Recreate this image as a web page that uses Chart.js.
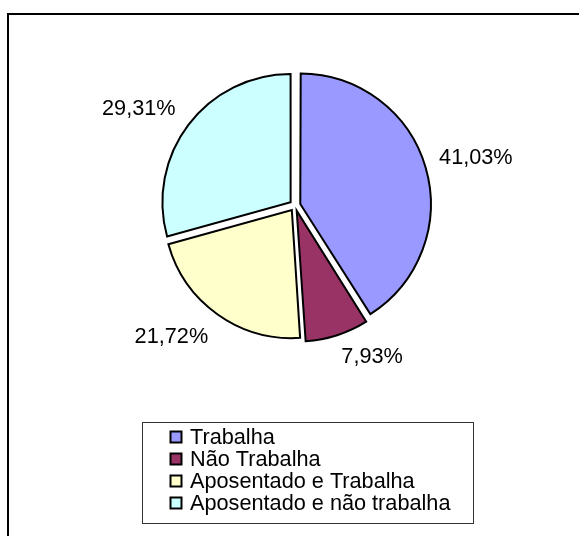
<!DOCTYPE html>
<html>
<head>
<meta charset="utf-8">
<script src="https://cdn.jsdelivr.net/npm/chart.js@4.4.1/dist/chart.umd.min.js"></script>
<style>
html, body { margin: 0; padding: 0; background: #fff; }
canvas { display: block; }
</style>
</head>
<body>
<canvas id="c" width="579" height="536"></canvas>
<script>
const categories = ["Trabalha", "Não Trabalha", "Aposentado e Trabalha", "Aposentado e não trabalha"];
const percentages = [41.03, 7.93, 21.72, 29.31];
const sliceColors = ["#9999FF", "#993366", "#FFFFCC", "#CCFFFF"];

const FONT = '"Liberation Sans", Arial, sans-serif';

const decorPlugin = {
  id: 'decor',
  afterDraw(chart) {
    const ctx = chart.ctx;
    const meta = chart.getDatasetMeta(0);
    const ds = chart.data.datasets[0];
    ctx.save();
    // outer frame
    ctx.strokeStyle = '#000';
    ctx.lineWidth = 2;
    ctx.strokeRect(8, 14, 800, 800);

    // data labels
    ctx.font = '21.7px ' + FONT;
    ctx.fillStyle = '#000';
    ctx.textBaseline = 'alphabetic';
    const capH = 15;
    meta.data.forEach((arc, i) => {
      const mid = (arc.startAngle + arc.endAngle) / 2;
      const dx = Math.cos(mid), dy = Math.sin(mid);
      const dist = arc.outerRadius + 22;
      const px = arc.x + dx * dist;
      const py = arc.y + dy * dist;
      ctx.textAlign = dx >= 0 ? 'left' : 'right';
      const by = dy < 0 ? py : py + capH;
      const txt = ds.data[i].toFixed(2).replace('.', ',') + '%';
      ctx.fillText(txt, px, by);
    });

    // legend box
    ctx.strokeStyle = '#333';
    ctx.lineWidth = 1;
    ctx.strokeRect(142.5, 422.5, 331, 101);
    ctx.textAlign = 'left';
    chart.data.labels.forEach((lab, i) => {
      const b = 444 + i * 22;
      ctx.fillStyle = ds.backgroundColor[i];
      ctx.fillRect(170.5, b - 12.5, 11, 11);
      ctx.strokeStyle = '#000';
      ctx.lineWidth = 2;
      ctx.strokeRect(170.5, b - 12.5, 11, 11);
      ctx.fillStyle = '#000';
      ctx.fillText(lab, 190, b);
    });
    ctx.restore();
  }
};

new Chart(document.getElementById('c'), {
  type: 'pie',
  data: {
    labels: categories,
    datasets: [{
      data: percentages,
      backgroundColor: sliceColors,
      borderColor: '#000',
      borderWidth: 2,
      borderJoinStyle: 'miter',
      offset: 22
    }]
  },
  options: {
    responsive: false,
    animation: false,
    radius: 128,
    layout: { padding: { left: 100, right: 89, top: 20, bottom: 145 } },
    plugins: {
      legend: { display: false },
      tooltip: { enabled: false }
    },
    events: []
  },
  plugins: [decorPlugin]
});
</script>
</body>
</html>
